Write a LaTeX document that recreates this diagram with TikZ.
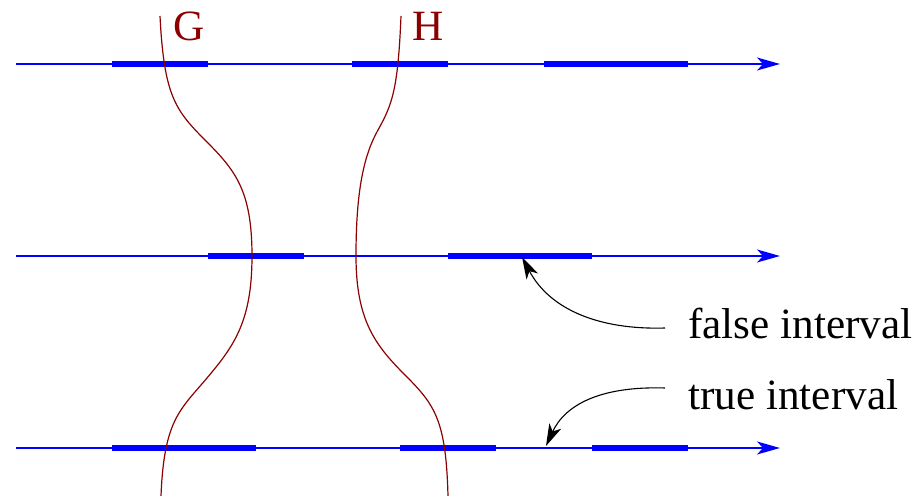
\documentclass[tikz,border=0pt]{standalone}
\usepackage{fontspec}
\setmainfont{Liberation Serif}
\usetikzlibrary{arrows.meta}
\definecolor{dred}{RGB}{139,0,0}
\tikzset{
  axis/.style={blue, line width=0.65pt, -{Stealth[length=11.5pt,width=6.5pt,inset=3pt]}},
  ival/.style={blue, line width=2.6pt},
  surf/.style={dred, line width=0.6pt},
  lbl/.style={font=\fontsize{21.6}{24}\selectfont, inner sep=0pt},
  glbl/.style={font=\fontsize{21.6}{24}\selectfont, text=dred, inner sep=0pt, anchor=base},
  pointer/.style={black, line width=0.55pt, -{Stealth[length=11pt,width=6.5pt,inset=3pt]}}
}
\begin{document}
\begin{tikzpicture}[x=0.5pt,y=-0.5pt]
\useasboundingbox (0,0) rectangle (918,496);
% axes
\foreach \y/\n in {64/a1,256/a2,448/a3}{
  \coordinate (\n s) at (16,\y);
  \coordinate (\n e) at (780,\y);
  \draw[axis] (\n s) -- (\n e);
}
% intervals
\draw[ival] (112,64) -- (208,64);
\draw[ival] (352,64) -- (448,64);
\draw[ival] (544,64) -- (688,64);
\draw[ival] (208,256) -- (304,256);
\draw[ival] (448,256) -- (592,256);
\draw[ival] (112,448) -- (256,448);
\draw[ival] (400,448) -- (496,448);
\draw[ival] (592,448) -- (688,448);
% curves
\draw[surf] (160,16) .. controls (164,95) and (175,110) .. (205,140)
  .. controls (235,170) and (252,190) .. (252,256)
  .. controls (252,320) and (235,345) .. (207,378)
  .. controls (180,410) and (164,420) .. (161,496);
\draw[surf] (401,16) .. controls (398,90) and (392,105) .. (378,130)
  .. controls (364,155) and (356,190) .. (356,256)
  .. controls (356,320) and (375,345) .. (405,375)
  .. controls (435,405) and (446,420) .. (448,496);
% labels
\node[glbl] (G) at (189,41) {G};
\node[glbl] (H) at (428,41) {H};
\node[lbl, anchor=base west] (fl) at (688,339) {false interval};
\node[lbl, anchor=base west] (tl) at (688,410) {true interval};
\coordinate (fs) at (665,328);
\coordinate (ft) at (522,257);
\coordinate (ts) at (665,388);
\coordinate (tt) at (546,446);
\draw[pointer] (fs) .. controls (600,330) and (550,310) .. (ft);
\draw[pointer] (ts) .. controls (600,386) and (565,405) .. (tt);
\end{tikzpicture}
\end{document}
